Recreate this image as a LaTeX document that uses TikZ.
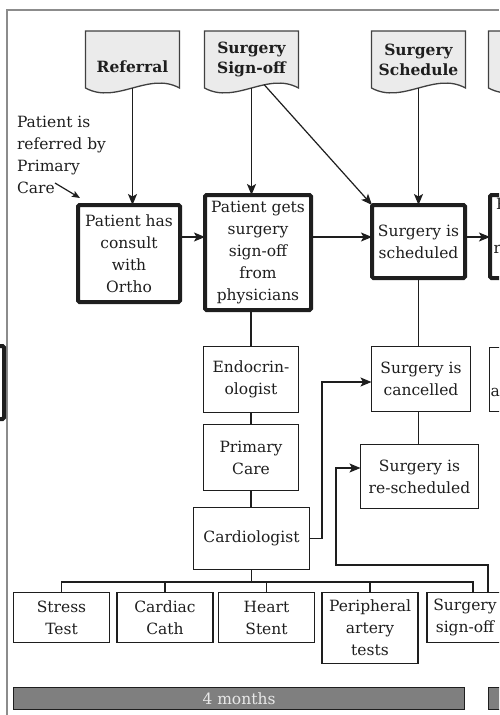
\documentclass[tikz,border=0pt]{standalone}
\usepackage{fontspec}
\setmainfont{DejaVu Serif}
\usetikzlibrary{arrows.meta,calc}
\pgfdeclarelayer{background}
\pgfsetlayers{background,main}
\definecolor{ink}{HTML}{1E1E1E}
\definecolor{framegray}{HTML}{8C8C8C}
\definecolor{docfill}{HTML}{EBEBEB}
\definecolor{barfill}{HTML}{7F7F7F}
\definecolor{bartext}{HTML}{E8E8E8}

\begin{document}
\begin{tikzpicture}[x=1pt,y=-1pt,
  every node/.style={font=\fontsize{15.5}{22}\selectfont, text=ink, align=center, inner sep=0pt, outer sep=0pt},
  sized/.style 2 args={minimum width=#1pt, minimum height=#2pt},
  heavybox/.style={draw=ink, line width=4pt, rounded corners=1.5pt},
  lightbox/.style={draw=ink, line width=1.4pt},
  docnode/.style={font=\bfseries\fontsize{15.5}{20}\selectfont},
  docline/.style={draw=ink!85, line width=1.3pt, fill=docfill},
  conn/.style={draw=ink, line width=1.2pt},
  arr/.style={conn, -{Stealth[length=11pt,width=9pt,inset=2.5pt]}},
  barbox/.style={fill=barfill, draw=ink, line width=1.3pt, text=bartext},
]
\useasboundingbox (0,0) rectangle (499,715);
\clip (0,0) rectangle (499,715);

% frame of the swimlane
\draw[framegray, line width=2pt] (7,715) -- (7,10) -- (499,10);

% document headers
\node[docnode, sized={94}{57}, text height=26pt, text depth=0pt] (referral) at (132.5,59.5) {Referral};
\node[docnode, sized={94}{57}] (signoffdoc) at (251.5,59.5) {Surgery\\Sign-off};
\node[docnode, sized={94}{57}] (scheduledoc) at (418.5,59.5) {Surgery\\Schedule};
\node[docnode, sized={94}{57}] (nextdoc) at (535.5,59.5) {};
\begin{pgfonlayer}{background}
  \foreach \d in {referral,signoffdoc,scheduledoc,nextdoc}
    \path[docline] (\d.north west) -- (\d.north east) -- (\d.south east)
      .. controls ($(\d.south east)+(-31,-17)$) and ($(\d.south west)+(31,17)$) .. (\d.south west) -- cycle;
\end{pgfonlayer}

% main process steps
\node[heavybox, sized={104}{73}] (prevstep) at (-48,382.5) {};
\node[heavybox, sized={102}{97}] (consult) at (129,253.5) {Patient has\\consult\\with\\Ortho};
\node[heavybox, sized={106}{115}] (gets) at (258,252.5) {Patient gets\\surgery\\sign-off\\from\\physicians};
\node[heavybox, sized={93}{73}] (scheduled) at (418.5,241.5) {Surgery is\\scheduled};
\node[heavybox, sized={100}{83}] (nextstep) at (540,236.5) {Patient has\\pre-op\\registration\\visit};

% referral note
\node[anchor=west, align=left] (refnote) at (17,155) {Patient is\\referred by\\Primary\\Care};
\coordinate (careend) at (55,183);
\draw[conn, -{Stealth[length=8pt,width=6.5pt,inset=1.5pt]}] (careend) -- ([shift={(2,-7)}]consult.north west);

% arrows from the documents
\draw[arr] (referral.south) -- (referral.south |- consult.north);
\draw[arr] (signoffdoc.south) -- (signoffdoc.south |- gets.north);
\draw[arr] ($(signoffdoc.south)+(12.5,-3.5)$) -- (scheduled.north west);
\draw[arr] (scheduledoc.south) -- (scheduledoc.south |- scheduled.north);

% main flow
\coordinate (row) at (0,237);
\draw[arr] (consult.east |- row) -- (gets.west |- row);
\draw[arr] (gets.east |- row) -- (scheduled.west |- row);
\draw[arr] (scheduled.east |- row) -- (nextstep.west |- row);

% physicians giving sign-off
\node[lightbox, sized={95}{66}] (endo) at (251,379.5) {Endocrin-\\ologist};
\node[lightbox, sized={95}{66}] (primary) at (251,457.5) {Primary\\Care};
\node[lightbox, sized={116}{62}] (cardio) at (251.5,538.5) {Cardiologist};
\draw[conn] (endo.north) -- (endo.north |- gets.south);
\draw[conn] (endo.south) -- (primary.north);
\draw[conn] (primary.south) -- (primary.south |- cardio.north);

% scheduling outcomes
\node[lightbox, sized={99}{65}] (cancelled) at (421,379) {Surgery is\\cancelled};
\node[lightbox, sized={118}{64}] (resched) at (419.5,476.5) {Surgery is\\re-scheduled};
\node[lightbox, sized={100}{64}] (nextlow) at (539.5,379.5) {Patient is\\admitted for};
\draw[conn] (scheduled.south) -- (scheduled.south |- cancelled.north);
\draw[conn] (cancelled.south -| scheduled.south) -- (resched.north -| scheduled.south);

\coordinate (upcancel) at (322,382);
\draw[arr] (cardio.east) -| (upcancel) -- (cancelled.west |- upcancel);

% cardiology tests
\node[lightbox, sized={96}{50}] (stress) at (61.5,617.5) {Stress\\Test};
\node[lightbox, sized={96}{50}] (cath) at (165,617.5) {Cardiac\\Cath};
\node[lightbox, sized={96}{50}] (stent) at (266.5,617.5) {Heart\\Stent};
\node[lightbox, sized={96}{71}, anchor=north] (periph) at (370,592.5) {Peripheral\\artery\\tests};
\node[lightbox, sized={76}{50}] (labsignoff) at (465,617.5) {Surgery\\sign-off};

\coordinate (busL) at (61.5,582);
\coordinate (busR) at (473,582);
\draw[conn] (cardio.south) -- (cardio.south |- busL);
\draw[conn] (stress.north) -- (busL) -- (busR) -- (busR |- labsignoff.north);
\foreach \n in {cath,stent,periph} \draw[conn] (\n.north) -- (\n.north |- busL);

\coordinate (loopR) at (488,565);
\coordinate (loopL) at (336,565);
\coordinate (reschedin) at (0,468);
\draw[arr] (loopR |- labsignoff.north) -- (loopR) -- (loopL) -- (loopL |- reschedin) -- (resched.west |- reschedin);

% time bars
\node[barbox, sized={451}{22}] (bar4) at (239,698.5) {4 months};
\node[barbox, sized={200}{22}] (barnext) at (588.5,698.5) {};
\end{tikzpicture}
\end{document}
